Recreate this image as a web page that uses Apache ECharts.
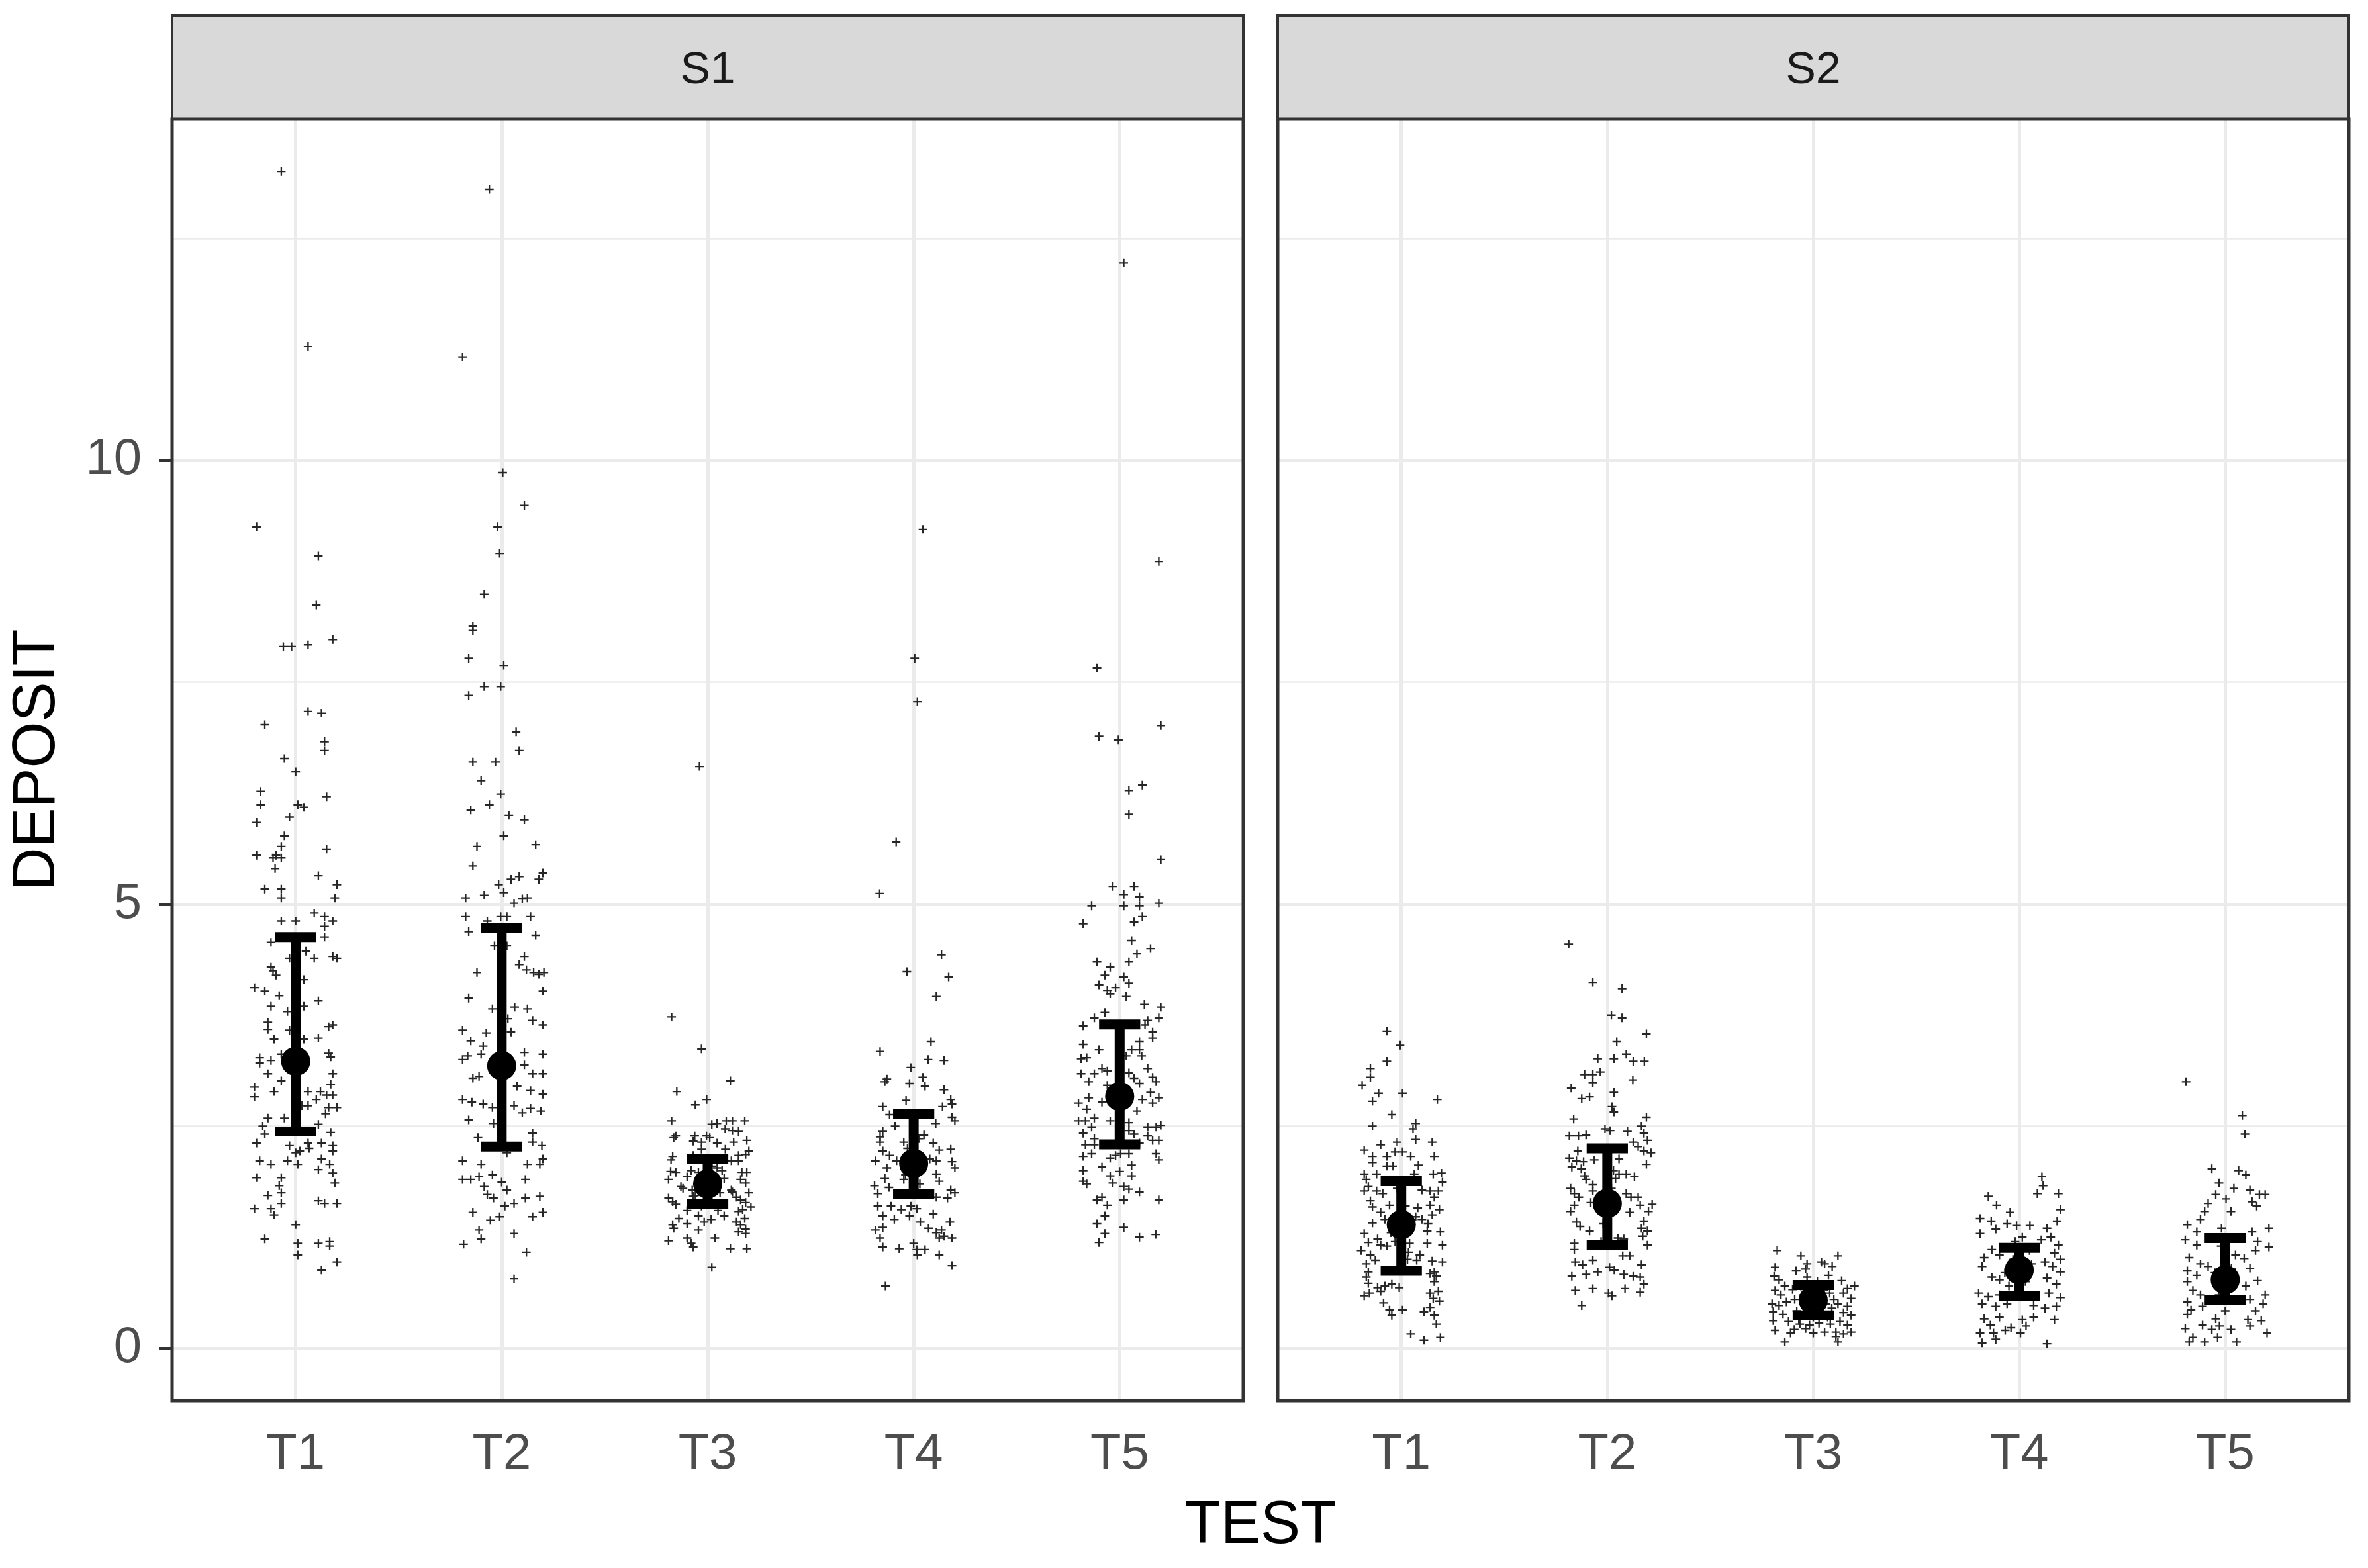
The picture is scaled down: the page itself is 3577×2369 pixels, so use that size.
<!DOCTYPE html>
<html>
<head>
<meta charset="utf-8">
<script src="https://cdn.jsdelivr.net/npm/echarts@6/dist/echarts.min.js"></script>
<style>
html, body { margin: 0; padding: 0; background: #fff; }
#main { width: 3577px; height: 2369px; }
</style>
</head>
<body>
<div id="main"></div>
<script>
var panels = ['S1', 'S2'];
var tests = ['T1', 'T2', 'T3', 'T4', 'T5'];
var yTicks = [0, 5, 10];
var yMinor = [2.5, 7.5, 12.5];

// jittered observations: [offset from the test position, DEPOSIT]
var s1t1 = [[-0.07,13.25],[0.06,11.28],[-0.19,9.25],[0.11,8.92],[0.1,8.37],
  [-0.06,7.9],[-0.02,7.9],[0.06,7.92],[0.18,7.98],[-0.15,7.02],[0.06,7.17],[0.125,7.15],[0.14,6.83],[0.14,6.73],[-0.055,6.64],[0,6.49],[-0.17,6.27],[-0.17,6.12],[0.15,6.21],[0.01,6.12],[0.04,6.09],[-0.19,5.92],[-0.03,5.98],[-0.055,5.77],[-0.07,5.65],[-0.19,5.55],[-0.11,5.52],[-0.095,5.55],[-0.07,5.52],[-0.1,5.4],[0.15,5.62],[0.11,5.32],[0.2,5.22],[-0.15,5.17],[-0.07,5.17],[-0.07,5.07],[0.19,5.07],
  [-0.07,4.81],[0,4.81],[0.09,4.9],[0.14,4.86],[0.18,4.81],[0.14,4.75],[0.14,4.63],[-0.12,4.57],[0.05,4.47],[-0.03,4.39],[0.09,4.39],[0.18,4.41],[0.2,4.39],[-0.12,4.29],[-0.11,4.25],[-0.095,4.2],[0.04,4.15],[-0.2,4.06],[-0.15,4.02],[-0.08,3.97],[-0.12,3.85],[0.04,3.85],[0.11,3.91],[-0.04,3.79],[-0.135,3.67],[-0.135,3.59],[0.16,3.62],[0.18,3.64],[-0.105,3.48],[-0.03,3.58],[0.04,3.48],[0.11,3.49],[0.16,3.32],[0.17,3.28],[-0.175,3.27],[-0.175,3.21],[-0.12,3.24],[-0.07,3.31],[-0.135,3.09],[0.18,3.09],[-0.07,3.01],
  [-0.2,2.94],[-0.2,2.83],[-0.105,2.89],[0.06,2.89],[0.17,2.97],[0.12,2.89],[0.15,2.85],[0.1,2.8],[0.18,2.85],[0.06,2.73],[0.03,2.73],[0.16,2.71],[0.2,2.71],[0.145,2.64],[-0.135,2.59],[-0.055,2.59],[-0.16,2.5],[-0.15,2.41],[0.11,2.52],[0.17,2.43],[-0.19,2.31],[-0.03,2.28],[0,2.2],[0.02,2.22],[0.06,2.31],[0.065,2.25],[0.125,2.31],[0.18,2.28],[0.18,2.22],[-0.175,2.11],[-0.12,2.07],[-0.04,2.11],[0.01,2.07],[0.125,2.13],[0.11,2.01],[0.165,2.07],[0.18,1.97],[-0.19,1.92],[-0.07,1.92],[-0.08,1.83],[0.19,1.86],[-0.07,1.75],[-0.135,1.72],[-0.07,1.63],[-0.2,1.57],[-0.12,1.57],[-0.105,1.5],[0.11,1.66],[0.14,1.63],[0.2,1.63],[0,1.39],[-0.15,1.23],[0.01,1.18],[0.01,1.05],[0.11,1.18],[0.165,1.2],[0.165,1.15],[0.2,0.97],[0.125,0.88]];

var s1t2 = [[-0.06,13.05],[-0.19,11.16],[0.005,9.86],[0.11,9.49],[-0.02,9.25],[-0.01,8.95],[-0.085,8.49],[-0.14,8.13],
  [-0.14,8.08],[-0.16,7.77],[0.01,7.69],[-0.085,7.45],[-0.005,7.45],[-0.16,7.35],[0.07,6.94],[0.085,6.73],[-0.14,6.6],[-0.03,6.6],[-0.1,6.39],[-0.005,6.24],[-0.15,6.06],[-0.06,6.12],[0.035,6.0],[0.11,5.95],[0.01,5.77],[0.165,5.67],[-0.12,5.65],[-0.14,5.43],[-0.015,5.22],[0.045,5.28],[0.085,5.31],[0.18,5.28],[0.2,5.35],[-0.175,5.07],[-0.085,5.1],[0.01,5.13],[0.06,5.01],[0.1,5.06],[0.125,5.07],
  [-0.175,4.86],[-0.07,4.81],[-0.005,4.86],[0.025,4.86],[0.14,4.86],[-0.16,4.69],[0.165,4.65],[-0.035,4.53],[0.025,4.53],[0.11,4.41],[0.085,4.32],[0.12,4.26],[0.155,4.23],[0.18,4.21],[0.205,4.23],[-0.12,4.23],[0.2,4.02],[-0.16,3.94],[-0.045,3.82],[0.063,3.84],[0.125,3.82],[0.15,3.69],[0.2,3.64],[0.03,3.71],[-0.19,3.58],[-0.075,3.55],[0.045,3.56],[-0.15,3.46],[-0.09,3.4],[-0.1,3.31],[-0.19,3.25],[-0.165,3.29],[0.11,3.33],[0.11,3.19],[0.2,3.31],[0.15,3.09],[0.2,3.09],[-0.14,3.04],[-0.11,3.06],
  [0.075,2.95],[0.14,2.9],[0.2,2.86],[-0.19,2.8],[-0.145,2.77],[-0.09,2.75],[-0.045,2.71],[0.06,2.73],[0.1,2.65],[0.14,2.7],[0.19,2.67],[-0.16,2.57],[-0.04,2.53],[-0.115,2.37],[0.15,2.42],[0.15,2.32],[0.195,2.28],[0.025,2.2],[-0.19,2.11],[-0.1,2.07],[0.125,2.07],[0.185,2.07],[0.2,2.13],[-0.19,1.9],[-0.15,1.9],[-0.11,1.93],[-0.045,1.95],[0,1.87],[0.115,1.9],[-0.085,1.82],[-0.07,1.73],[-0.04,1.69],[0.025,1.78],[0.06,1.63],[0.115,1.69],[0.185,1.71],[0.015,1.6],[-0.14,1.53],[-0.055,1.44],[-0.01,1.48],[0.15,1.48],[0.2,1.53],[-0.11,1.33],[-0.1,1.23],[0.06,1.29],[-0.185,1.17],[0.12,1.08],[0.06,0.78]];

var s1t3 = [[-0.04,6.55],[-0.175,3.73],[-0.03,3.37],[0.11,3.01],[-0.15,2.89],[-0.005,2.8],[-0.06,2.74],[-0.175,2.56],[0.02,2.52],[0.045,2.53],[0.09,2.56],[0.12,2.56],[0.18,2.56],[0.085,2.47],[0.12,2.45],[0.15,2.44],[-0.155,2.39],[-0.165,2.37],[-0.063,2.39],[-0.006,2.39],[0.01,2.37],[-0.07,2.33],[-0.03,2.32],[0.046,2.31],[0.126,2.32],[0.19,2.34],[-0.03,2.24],[0.086,2.24],[0.2,2.22],[-0.17,2.16],[-0.178,2.12],[-0.07,2.17],[0.15,2.17],[0.115,2.11],[0.15,2.11],[0.184,2.18],
  [-0.18,1.99],[-0.155,1.98],[-0.1,1.93],[-0.045,1.98],[0.046,2.03],[0.08,1.91],[0.166,1.98],[0.19,1.98],[0.16,1.9],[0.184,1.86],[-0.19,1.9],[-0.13,1.82],[-0.12,1.8],[-0.075,1.78],[0.115,1.78],[0.12,1.76],[0.2,1.75],[-0.19,1.69],[-0.17,1.65],[-0.155,1.62],[-0.07,1.71],[0.14,1.7],[0.16,1.67],[0.184,1.64],[0.21,1.59],[0.17,1.56],[0.15,1.54],[-0.14,1.46],[-0.1,1.4],[-0.17,1.39],[-0.165,1.35],[-0.045,1.49],[-0.017,1.42],[0.017,1.45],[0.08,1.49],[0.14,1.42],[0.16,1.39],[0.18,1.46],[0.184,1.34],[-0.045,1.33],[0.15,1.31],[0.184,1.29],[-0.19,1.21],[-0.1,1.24],[-0.08,1.18],[-0.07,1.14],[0.035,1.24],[0.11,1.12],[0.19,1.12],[0.02,0.91],
  [-0.05,1.85],[0.03,1.9],[0,1.7],[-0.08,2.0],[0.06,1.75],[-0.03,1.6],[0.05,1.55],[-0.06,1.72],[0.02,2.05],[-0.02,1.95],[0.07,2.0],[-0.1,1.55]];

var s1t4 = [[0.045,9.22],[0.005,7.77],[0.018,7.28],[-0.085,5.7],[-0.165,5.12],[-0.033,4.24],[0.135,4.43],[0.17,4.18],[0.11,3.96],
  [0.084,3.45],[-0.163,3.34],[0.07,3.25],[0.147,3.24],[-0.014,3.16],[-0.13,3.03],[-0.14,3.0],[0.044,3.05],[0.055,2.95],[-0.02,2.98],[0.147,2.91],[0.18,2.8],[0.186,2.75],[-0.037,2.79],[-0.15,2.72],[-0.117,2.63],[0.14,2.72],[0.186,2.6],[0.2,2.56],[-0.09,2.5],[0.107,2.53],[-0.15,2.44],[-0.163,2.38],[-0.163,2.32],[-0.048,2.32],[0.026,2.36],[0.095,2.31],[0.18,2.24],[-0.15,2.22],[0.124,2.23],[-0.186,2.11],[-0.117,2.17],[-0.083,2.11],[0.078,2.13],[0.11,2.11],[0.186,2.1],[0.2,2.03],[-0.13,2.03],
  [-0.14,1.91],[-0.048,1.9],[0.11,1.96],[0.124,1.88],[-0.19,1.83],[-0.12,1.81],[-0.174,1.74],[0.18,1.78],[0.2,1.75],[0.11,1.7],[0.164,1.69],[-0.174,1.6],[-0.11,1.6],[-0.06,1.56],[-0.014,1.6],[0.015,1.57],[-0.15,1.49],[-0.094,1.45],[-0.02,1.49],[0.095,1.51],[0.032,1.42],[0.176,1.42],[-0.186,1.33],[-0.15,1.36],[0.072,1.35],[0.11,1.3],[0.135,1.33],[0.147,1.26],[-0.163,1.24],[0.124,1.24],[0.186,1.24],[-0.15,1.14],[-0.07,1.12],[0,1.18],[0.015,1.11],[0.055,1.11],[0.018,1.05],[0.124,1.05],[0.186,0.93],[-0.137,0.7],
  [0,2.1],[0.04,2.0],[-0.03,2.25],[0.03,1.85],[-0.04,1.95],[0.05,2.4]];

var s1t5 = [[0.02,12.22],[0.19,8.86],
  [-0.11,7.66],[-0.1,6.89],[-0.006,6.85],[0.2,7.01],[0.045,6.28],[0.11,6.34],[0.045,6.01],[0.2,5.5],[-0.033,5.2],[0.07,5.2],[0.02,5.11],[0.096,5.08],[-0.136,4.98],[0.02,4.98],[0.096,4.98],[0.19,5.01],[-0.177,4.78],[0.07,4.8],[0.11,4.86],[0.058,4.59],[0.084,4.44],[0.15,4.5],[-0.11,4.35],[0.045,4.35],[-0.046,4.29],[-0.072,4.2],[0.02,4.18],[0.045,4.11],[-0.1,4.09],[-0.06,4.03],[-0.046,3.99],[-0.02,4.06],[0.032,3.96],[0.12,3.87],[0.2,3.84],[-0.072,3.78],[-0.123,3.72],[0.19,3.72],[-0.177,3.63],[0.123,3.64],[0.136,3.69],[0.16,3.56],[0.16,3.49],[0.096,3.45],[-0.177,3.42],[-0.1,3.36],[0.058,3.36],[0.096,3.36],[0.107,3.29],[-0.187,3.26],[-0.16,3.27],[0.032,3.29],
  [-0.187,3.09],[-0.123,3.09],[-0.15,3.0],[-0.086,3.15],[-0.06,3.12],[0.136,3.15],[0.045,3.1],[0.07,3.04],[0.096,2.98],[0.16,3.05],[0.177,3.0],[-0.06,2.96],[0.15,2.88],[-0.2,2.76],[-0.15,2.82],[-0.16,2.69],[-0.086,2.77],[0.11,2.8],[0.19,2.82],[0.16,2.76],[0.084,2.67],[-0.2,2.56],[-0.166,2.56],[-0.123,2.59],[-0.177,2.42],[-0.136,2.49],[-0.046,2.56],[0.045,2.54],[0.045,2.45],[0.07,2.41],[0.136,2.49],[0.177,2.49],[0.2,2.51],[0.136,2.39],[0.16,2.34],[0.19,2.34],[-0.123,2.36],[-0.166,2.29],[-0.123,2.29],[0.096,2.31],
  [-0.177,2.16],[-0.136,2.19],[-0.046,2.14],[-0.02,2.17],[0.005,2.19],[0.045,2.19],[0.177,2.19],[0.19,2.12],[-0.086,2.04],[0.058,2.06],[-0.177,2.0],[-0.046,1.94],[0,1.99],[0.058,1.94],[-0.177,1.88],[-0.16,1.85],[-0.033,1.86],[0.02,1.82],[0.045,1.79],[0.096,1.76],[-0.11,1.67],[-0.086,1.7],[0.02,1.67],[0.19,1.67],[-0.06,1.61],[-0.072,1.49],[-0.11,1.4],[0.02,1.36],[-0.072,1.29],[-0.1,1.19],[0.096,1.25],[0.175,1.28]];

var s2t1 = [[-0.07,3.57],[-0.006,3.41],[-0.07,3.23],[-0.15,3.15],[-0.15,3.05],[-0.19,2.96],[-0.11,2.87],[-0.14,2.78],[0.006,2.87],[0.175,2.8],[-0.046,2.63],[-0.14,2.5],[0.07,2.53],[0.057,2.47],[-0.1,2.29],[-0.02,2.32],[0.07,2.35],[0.15,2.32],[-0.18,2.23],[-0.14,2.16],[-0.07,2.16],[-0.03,2.21],[0.006,2.21],[0.046,2.16],[0.16,2.16],[-0.14,2.09],[-0.07,2.05],[-0.04,2.05],[0.083,2.06],
  [-0.18,1.96],[-0.12,1.96],[0.063,1.96],[0.155,1.96],[0.195,1.97],[0.2,1.87],[-0.17,1.9],[-0.16,1.82],[-0.18,1.77],[-0.12,1.77],[-0.09,1.74],[0.1,1.78],[0.14,1.77],[0.18,1.77],[0.16,1.7],[-0.15,1.66],[-0.14,1.59],[-0.057,1.61],[0.08,1.58],[0.14,1.61],[0.185,1.56],[-0.1,1.53],[-0.08,1.45],[0.07,1.48],[0.1,1.45],[0.15,1.5],[-0.14,1.41],[0.13,1.4],[0.126,1.32],[0.19,1.31],[-0.18,1.29],[-0.16,1.19],[-0.115,1.23],[-0.1,1.16],[-0.07,1.15],[0.04,1.18],[0.126,1.18],[0.2,1.16],[-0.195,1.1],[-0.15,1.05],[-0.126,0.99],[0.035,1.08],[0.09,1.05],[0.075,0.99],[0.15,0.98],[0.2,0.97],
  [-0.17,0.95],[-0.16,0.86],[-0.17,0.8],[0.14,0.84],[0.17,0.81],[0.16,0.86],[0.16,0.75],[-0.16,0.73],[-0.115,0.68],[-0.08,0.7],[-0.046,0.72],[-0.01,0.68],[0.14,0.62],[0.18,0.64],[-0.18,0.59],[-0.155,0.62],[-0.1,0.64],[0.155,0.56],[0.185,0.53],[-0.086,0.51],[-0.057,0.43],[-0.046,0.37],[0.006,0.43],[0.11,0.41],[0.14,0.46],[0.16,0.37],[0.17,0.27],[0.046,0.16],[0.11,0.09],[0.19,0.12],
  [0,1.4],[0.02,1.6],[-0.03,1.2],[0.03,1.0],[-0.02,1.8],[0.01,1.5],[-0.05,1.3]];

var s2t2 = [[-0.187,4.55],[-0.07,4.12],[0.072,4.05],[0.02,3.75],[0.072,3.72],[0.19,3.54],[0.046,3.45],[-0.046,3.26],[0.032,3.26],[0.092,3.31],[0.126,3.23],[0.18,3.23],[-0.11,3.08],[-0.07,3.08],[-0.034,3.11],[-0.07,2.99],[0.124,3.02],[-0.175,2.93],[0.032,2.88],[-0.124,2.81],[-0.086,2.83],[0.023,2.72],[0.032,2.66],[-0.163,2.58],[0.19,2.6],[-0.011,2.47],[0.014,2.45],[0.166,2.5],[0.098,2.44],[-0.184,2.39],[-0.14,2.39],[-0.103,2.4],[0.178,2.42],[0.195,2.34],[0.126,2.32],[0.15,2.27],[-0.143,2.22],[0.178,2.22],[0.212,2.2],[-0.184,2.14],[-0.15,2.11],[-0.115,2.1],[-0.063,2.12],[0.057,2.13],[0.19,2.07],[-0.172,2.04],[-0.126,2.02],
  [0.057,1.96],[0.092,1.96],[0.132,1.93],[-0.11,1.94],[-0.103,1.9],[0.04,1.91],[-0.07,1.84],[-0.178,1.8],[-0.16,1.74],[-0.138,1.7],[-0.07,1.77],[-0.08,1.64],[0.092,1.74],[0.15,1.7],[0.115,1.7],[0.218,1.62],[0.16,1.61],[0.2,1.54],[-0.16,1.61],[-0.178,1.54],[0.109,1.53],[0.178,1.43],[-0.15,1.42],[-0.132,1.37],[-0.086,1.32],[0.166,1.35],[0.195,1.32],[0.172,1.26],[0.052,1.24],[0.08,1.23],[0.195,1.16],[-0.16,1.18],[-0.16,1.11],[0.075,1.04],[0.109,1.04],
  [-0.155,0.97],[-0.12,0.94],[-0.07,0.99],[-0.046,0.86],[0.011,0.91],[0.034,0.88],[0.166,0.94],[-0.172,0.81],[-0.103,0.83],[0.08,0.83],[0.126,0.81],[0.16,0.8],[0.178,0.72],[-0.155,0.65],[-0.07,0.67],[0.006,0.62],[0.023,0.59],[0.086,0.67],[0.16,0.63],[-0.124,0.48],
  [0,1.6],[0.02,1.8],[-0.02,1.4],[0.03,2.0],[-0.03,1.2],[0.01,1.7]];

var s2t3 = [[-0.175,1.1],[-0.06,1.04],[0.04,0.97],[0.055,0.95],[0.12,1.04],[-0.03,0.95],[-0.185,0.91],[-0.19,0.81],[-0.083,0.87],[-0.037,0.89],[0.092,0.92],[0.074,0.82],[0.138,0.76],[-0.166,0.77],[-0.138,0.7],[0.2,0.7],[0.166,0.67],[-0.185,0.65],[-0.157,0.6],[0.147,0.62],[0.184,0.56],[-0.2,0.5],[-0.166,0.48],[-0.13,0.52],[0.12,0.5],[0.166,0.47],[-0.194,0.41],[-0.147,0.38],[0.147,0.4],[0.184,0.37],[-0.194,0.31],[-0.12,0.3],[-0.065,0.27],[-0.018,0.26],[0.028,0.28],[0.083,0.27],[0.13,0.3],[0.166,0.26],[-0.185,0.2],[-0.092,0.21],[0,0.17],[0.055,0.18],[0.11,0.18],[0.147,0.16],[0.184,0.18],[-0.138,0.07],[0.12,0.07],[-0.037,0.22],[-0.11,0.17],[0.11,0.13],
  [-0.05,0.6],[0,0.55],[0.05,0.65],[-0.02,0.45],[0.03,0.4],[-0.06,0.7],[0.06,0.5],[0,0.35],[-0.04,0.5],[0.04,0.58],[-0.08,0.42],[0.08,0.62],[-0.09,0.55],[0.09,0.45],[0.02,0.75],[-0.03,0.8],[0.07,0.35],[-0.07,0.32],[0.1,0.55],[-0.1,0.66]];

var s2t4 = [[0.11,1.93],[0.116,1.83],[0.088,1.74],[0.19,1.74],[-0.15,1.71],[-0.11,1.61],[-0.044,1.53],[0.2,1.56],[-0.19,1.46],[-0.136,1.43],[-0.059,1.4],[-0.013,1.38],[0.052,1.38],[0.135,1.35],[0.184,1.43],[-0.19,1.29],[-0.114,1.34],[0.015,1.25],[0.153,1.25],[0.107,1.22],[0.19,1.16],[-0.133,1.11],[-0.096,1.05],[-0.17,1.02],[-0.18,0.92],[0.171,1.07],[0.2,1.0],[0.125,0.97],[0.162,0.92],[0.2,0.86],[-0.133,0.8],[-0.096,0.77],[0.135,0.79],[0.18,0.72],[-0.197,0.62],[-0.15,0.58],[-0.096,0.6],[0.144,0.62],[0.2,0.57],[-0.18,0.5],[-0.114,0.47],[-0.059,0.5],[0.07,0.48],[0.125,0.45],[0.18,0.47],[-0.17,0.33],[-0.096,0.35],[0.015,0.32],[0.07,0.35],[0.171,0.32],[-0.14,0.26],[-0.04,0.23],[0.033,0.25],[-0.19,0.17],[-0.125,0.17],[-0.068,0.2],[0.006,0.17],[-0.114,0.1],[-0.18,0.06],[0.135,0.05],
  [0,0.9],[0.03,0.75],[-0.03,1.0],[0.05,1.1],[-0.05,0.7],[0.02,0.6],[-0.02,1.2],[0.06,0.95],[-0.07,0.85]];

var s2t5 = [[-0.19,3.0],[0.083,2.62],[0.096,2.41],[-0.065,2.02],[0.065,2.0],[0.1,1.95],[-0.03,1.86],[0.042,1.8],[0.12,1.78],[0.166,1.73],[0.194,1.73],[-0.046,1.73],[0.004,1.68],[-0.083,1.63],[0.13,1.65],[0.153,1.6],[-0.1,1.54],[0.028,1.54],[-0.12,1.45],[-0.184,1.39],[0.212,1.35],[-0.138,1.31],[-0.018,1.35],[0.13,1.31],[-0.194,1.22],[0.157,1.2],[-0.138,1.16],[0.212,1.14],[0.147,1.1],[-0.175,1.02],[-0.12,0.95],[-0.083,0.92],[0.092,1.01],[-0.184,0.87],[0.12,0.9],[-0.138,0.82],[0.157,0.76],[-0.184,0.75],[0.1,0.7],[-0.157,0.65],[-0.12,0.6],[0.194,0.6],[-0.184,0.52],[0.12,0.55],[0.184,0.5],[-0.166,0.43],[-0.11,0.47],[0,0.42],[0.147,0.42],[-0.184,0.38],[-0.046,0.33],[0.11,0.32],[0.175,0.31],[-0.194,0.22],[-0.11,0.26],[-0.065,0.21],[-0.028,0.25],[0.028,0.21],[0.12,0.25],[0.203,0.17],[-0.157,0.12],[-0.1,0.07],[-0.037,0.12],[0.055,0.07],[-0.175,0.07],
  [0,0.75],[0.03,0.9],[-0.03,0.6],[0.05,1.05],[-0.05,0.85],[0.02,0.55],[-0.02,1.15]];

// centre point and error bar per test
var s1Mid = [3.23, 3.18, 1.85, 2.08, 2.835];
var s1Low = [2.44, 2.27, 1.62, 1.735, 2.295];
var s1High = [4.63, 4.73, 2.13, 2.64, 3.645];
var s2Mid = [1.39, 1.63, 0.54, 0.88, 0.77];
var s2Low = [0.87, 1.16, 0.37, 0.59, 0.54];
var s2High = [1.88, 2.25, 0.71, 1.13, 1.24];

var groups = [[s1t1, s1t2, s1t3, s1t4, s1t5], [s2t1, s2t2, s2t3, s2t4, s2t5]];
var mids = [s1Mid, s2Mid], lows = [s1Low, s2Low], highs = [s1High, s2High];

var font = '"Liberation Sans", Arial, sans-serif';
var panelLeft = [260, 1930];
var panelW = 1618, panelTop = 180, panelH = 1936;
var stripTop = 23;
var plusPath = 'path://M-0.9,-5L0.9,-5L0.9,-0.9L5,-0.9L5,0.9L0.9,0.9L0.9,5L-0.9,5L-0.9,0.9L-5,0.9L-5,-0.9L-0.9,-0.9Z';

var myChart = echarts.init(document.getElementById('main'));

var grids = [], xAxes = [], yAxes = [], series = [], graphics = [];

panels.forEach(function(name, p) {
  grids.push({ left: panelLeft[p], top: panelTop, width: panelW, height: panelH, show: true, backgroundColor: '#fff', borderWidth: 0 });
  xAxes.push({
    type: 'value', gridIndex: p, min: 0.4, max: 5.6,
    axisLine: { show: false },
    splitLine: { show: false },
    axisTick: { show: true, customValues: [1, 2, 3, 4, 5], length: 20, lineStyle: { color: '#333', width: 5 } },
    axisLabel: { customValues: [1, 2, 3, 4, 5], formatter: function(v) { return tests[Math.round(v) - 1]; },
      fontFamily: font, fontSize: 76, color: '#4d4d4d', margin: 44 }
  });
  yAxes.push({
    type: 'value', gridIndex: p, min: -0.59, max: 13.84,
    axisLine: { show: false },
    splitLine: { show: false },
    axisTick: { show: p === 0, customValues: yTicks, length: 20, lineStyle: { color: '#333', width: 5 } },
    axisLabel: { show: p === 0, customValues: yTicks, fontFamily: font, fontSize: 76, color: '#4d4d4d', margin: 46 }
  });

  // grid lines
  var lines = [];
  yTicks.forEach(function(v) { lines.push({ yAxis: v, lineStyle: { color: '#ebebeb', width: 5, type: 'solid' } }); });
  yMinor.forEach(function(v) { lines.push({ yAxis: v, lineStyle: { color: '#ebebeb', width: 2.5, type: 'solid' } }); });
  tests.forEach(function(t, i) { lines.push({ xAxis: i + 1, lineStyle: { color: '#ebebeb', width: 5, type: 'solid' } }); });
  series.push({
    type: 'scatter', xAxisIndex: p, yAxisIndex: p, data: [], z: 1, silent: true,
    markLine: { z: 1, silent: true, symbol: ['none', 'none'], label: { show: false }, animation: false, data: lines }
  });

  // jittered points
  var pts = [];
  groups[p].forEach(function(g, i) {
    g.forEach(function(d) { pts.push([i + 1 + d[0], d[1]]); });
  });
  series.push({
    type: 'scatter', xAxisIndex: p, yAxisIndex: p, data: pts, z: 2, silent: true,
    symbol: plusPath, symbolSize: 13, itemStyle: { color: '#262626', opacity: 1 }
  });

  // error bars
  var bars = mids[p].map(function(m, i) { return [i + 1, lows[p][i], highs[p][i]]; });
  series.push({
    type: 'custom', xAxisIndex: p, yAxisIndex: p, data: bars, z: 3, silent: true,
    encode: { x: 0, y: [1, 2] },
    renderItem: function(params, api) {
      var x = api.value(0), lo = api.value(1), hi = api.value(2);
      var top = api.coord([x, hi]), bot = api.coord([x, lo]);
      var l = api.coord([x - 0.1, hi])[0], r = api.coord([x + 0.1, hi])[0];
      var st = { stroke: '#000', lineWidth: 15 };
      return { type: 'group', children: [
        { type: 'line', shape: { x1: top[0], y1: top[1], x2: bot[0], y2: bot[1] }, style: st },
        { type: 'line', shape: { x1: l, y1: top[1], x2: r, y2: top[1] }, style: st },
        { type: 'line', shape: { x1: l, y1: bot[1], x2: r, y2: bot[1] }, style: st }
      ] };
    }
  });

  // centre points
  series.push({
    type: 'scatter', xAxisIndex: p, yAxisIndex: p, z: 4, silent: true,
    data: mids[p].map(function(m, i) { return [i + 1, m]; }),
    symbol: 'circle', symbolSize: 44, itemStyle: { color: '#000', opacity: 1 }
  });

  // strip and panel border
  graphics.push({ type: 'rect', z: 100, shape: { x: panelLeft[p], y: stripTop, width: panelW, height: panelTop - stripTop },
    style: { fill: '#d9d9d9', stroke: '#333', lineWidth: 4 } });
  graphics.push({ type: 'text', z: 101, x: panelLeft[p] + panelW / 2, y: (stripTop + panelTop) / 2 + 6,
    style: { text: name, font: '68px ' + font, fill: '#1a1a1a', align: 'center', verticalAlign: 'middle' } });
  graphics.push({ type: 'rect', z: 100, shape: { x: panelLeft[p], y: panelTop, width: panelW, height: panelH },
    style: { fill: 'none', stroke: '#333', lineWidth: 5 } });
});

graphics.push({ type: 'text', z: 101, x: 1904, y: 2306,
  style: { text: 'TEST', font: '90px ' + font, fill: '#000', align: 'center', verticalAlign: 'middle' } });
graphics.push({ type: 'text', z: 101, x: 57, y: 1148, rotation: Math.PI / 2,
  style: { text: 'DEPOSIT', font: '90px ' + font, fill: '#000', align: 'center', verticalAlign: 'middle' } });

var option = {
  animation: false,
  backgroundColor: '#fff',
  grid: grids,
  xAxis: xAxes,
  yAxis: yAxes,
  series: series,
  graphic: graphics
};

myChart.setOption(option);
</script>
</body>
</html>
